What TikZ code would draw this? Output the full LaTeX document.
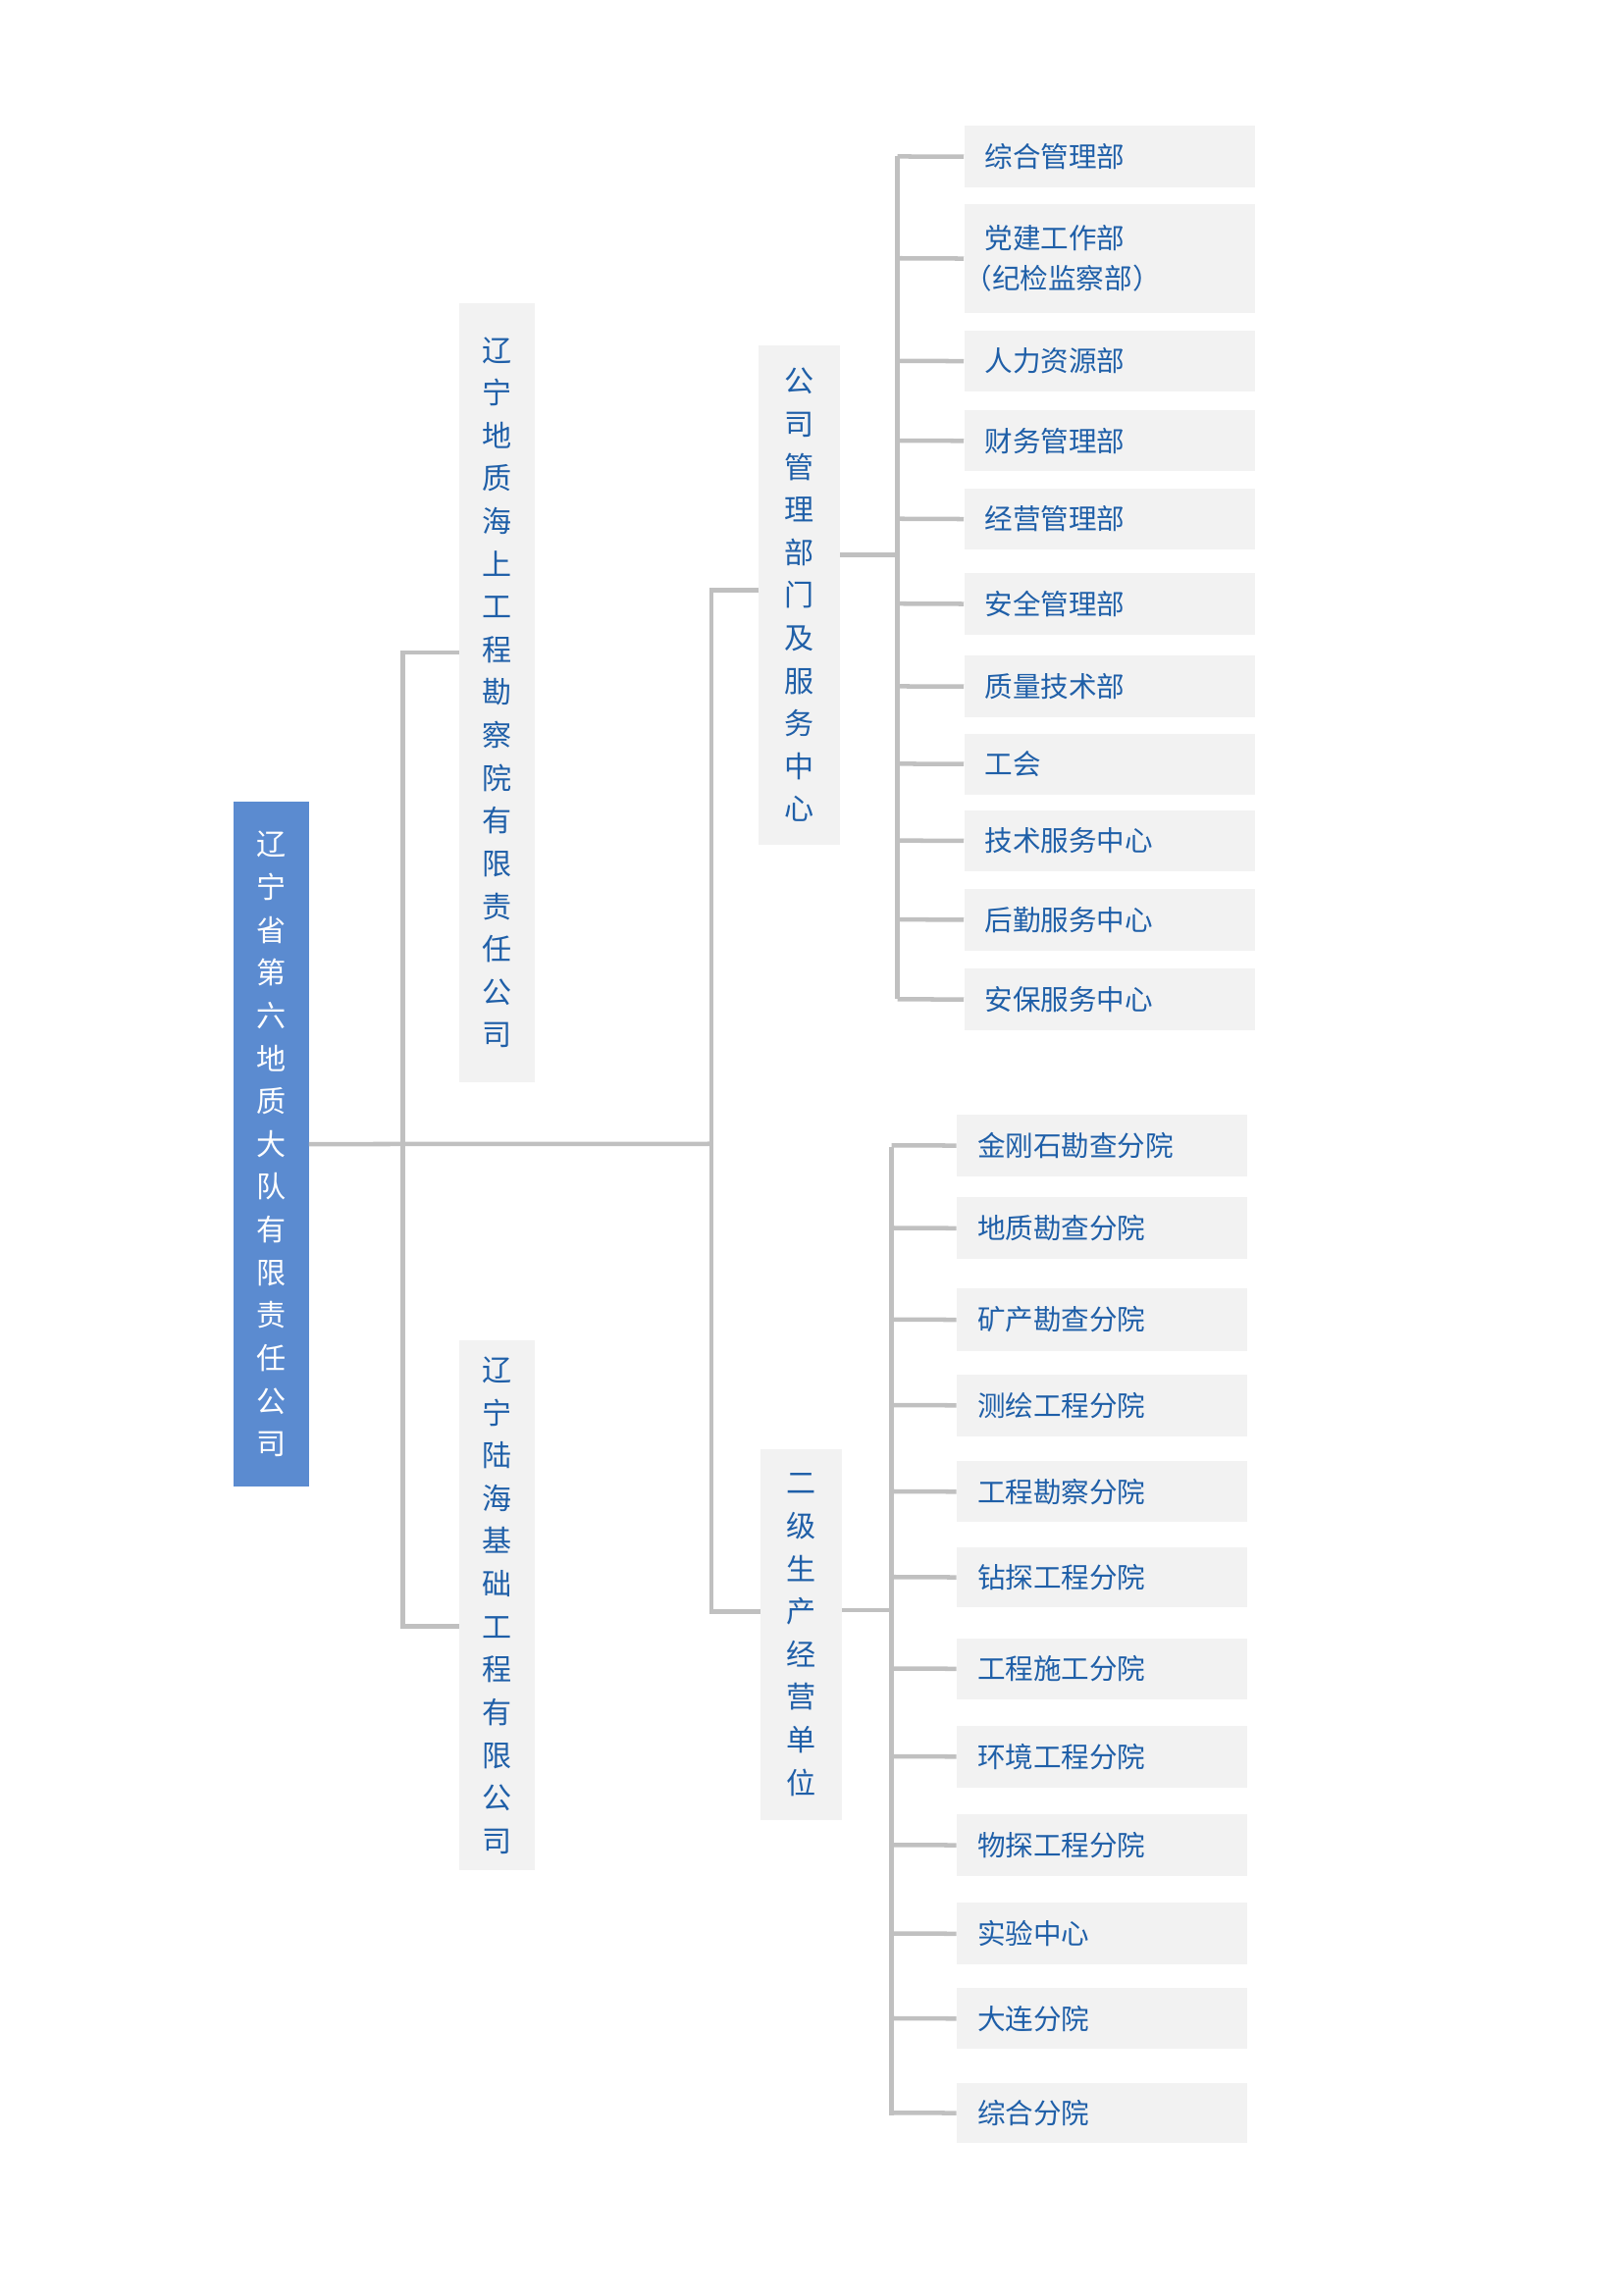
\documentclass[tikz,border=0pt]{standalone}
\usepackage{fontspec}
\newfontfamily\cjk{Noto Sans CJK SC}
\definecolor{tblue}{HTML}{1F5FA8}
\definecolor{boxg}{HTML}{F2F2F2}
\definecolor{lineg}{HTML}{C0C0C0}
\definecolor{rootb}{HTML}{5B8BD0}
\begin{document}
\begin{tikzpicture}[x=1pt,y=-1pt,
  vbox/.style={fill=boxg,text=tblue,font=\cjk\fontsize{20}{29}\selectfont,align=center,inner sep=0pt,anchor=north west},
  item/.style={fill=boxg,text=tblue,font=\cjk\fontsize{19}{27}\selectfont,align=left,inner sep=0pt,anchor=north west,text width=#1},
  conn/.style={draw=lineg,line width=3pt}]
\useasboundingbox (0,0) rectangle (1100,1555);
\node[vbox,fill=rootb,text=white,minimum width=51pt,minimum height=464pt] (root) at (158,543) {辽\\宁\\省\\第\\六\\地\\质\\大\\队\\有\\限\\责\\任\\公\\司};
\node[vbox,minimum width=51pt,minimum height=528pt] (A) at (311,205) {辽\\宁\\地\\质\\海\\上\\工\\程\\勘\\察\\院\\有\\限\\责\\任\\公\\司};
\node[vbox,minimum width=51pt,minimum height=359pt] (B) at (311,908) {辽\\宁\\陆\\海\\基\\础\\工\\程\\有\\限\\公\\司};
\node[vbox,minimum width=55pt,minimum height=338pt] (C) at (514,234) {公\\司\\管\\理\\部\\门\\及\\服\\务\\中\\心};
\node[vbox,minimum width=55pt,minimum height=251pt] (D) at (515,982) {二\\级\\生\\产\\经\\营\\单\\位};
\coordinate (j1) at (273,775);
\coordinate (j2) at (482,775);
\draw[conn] (root.east) -- (j2);
\draw[conn] (A.west|-0,442) -- (273,442) -- (273,1102) -- (B.west|-0,1102);
\draw[conn] (C.west|-0,400) -- (482,400) -- (482,1092) -- (D.west|-0,1092);
% C items
\foreach \t/\ya/\yb [count=\i] in {
 综合管理部/85/127,
 {党建工作部\\（纪检监察部）}/138/212,
 人力资源部/224/265,
 财务管理部/278/319,
 经营管理部/331/372,
 安全管理部/388/430,
 质量技术部/444/486,
 工会/497/538,
 技术服务中心/549/590,
 后勤服务中心/602/644,
 安保服务中心/656/698}{
 \pgfmathsetmacro{\h}{\yb-\ya}
 \node[item=197pt,minimum height=\h pt] (c\i) at (653,\ya) {\hspace*{14pt}\t};
 \draw[conn] (c\i.west) -- (608,{(\ya+\yb)/2});
}
\draw[conn] (C.east|-0,376) -- (608,376);
\draw[conn] (608,106) -- (608,677);
% D items
\foreach \t/\ya/\yb [count=\i] in {
 金刚石勘查分院/755/797,
 地质勘查分院/811/853,
 矿产勘查分院/873/915,
 测绘工程分院/931/973,
 工程勘察分院/990/1031,
 钻探工程分院/1048/1089,
 工程施工分院/1110/1151,
 环境工程分院/1169/1211,
 物探工程分院/1229/1271,
 实验中心/1289/1331,
 大连分院/1347/1388,
 综合分院/1411/1452}{
 \pgfmathsetmacro{\h}{\yb-\ya}
 \node[item=197pt,minimum height=\h pt] (d\i) at (648,\ya) {\hspace*{14pt}\t};
 \draw[conn] (d\i.west) -- (604,{(\ya+\yb)/2});
}
\draw[conn] (D.east|-0,1091) -- (604,1091);
\draw[conn] (604,777) -- (604,1433);
\end{tikzpicture}
\end{document}
